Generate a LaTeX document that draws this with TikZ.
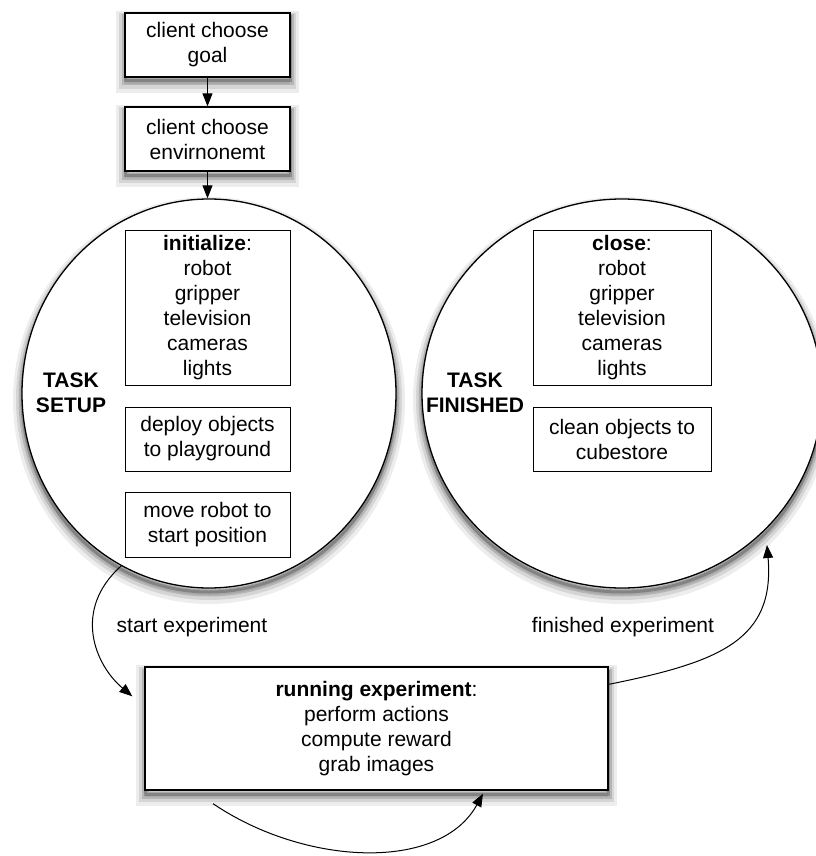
\documentclass[tikz,border=0pt]{standalone}
\usepackage{fontspec}
\setmainfont{Liberation Sans}
\usetikzlibrary{arrows.meta,shapes.geometric}
\begin{document}
\begin{tikzpicture}[x=1pt,y=-1pt,
  font=\fontsize{21}{25}\selectfont,
  shad/.style={
    preaction={draw=black,fill=black,opacity=0.07,line width=18pt,transform canvas={yshift=-7pt}},
    preaction={draw=black,fill=none,opacity=0.10,line width=12pt,transform canvas={yshift=-6pt}},
    preaction={draw=black,fill=none,opacity=0.15,line width=7pt,transform canvas={yshift=-5pt}},
    preaction={draw=black,fill=none,opacity=0.22,line width=3pt,transform canvas={yshift=-4pt}}},
  topbox/.style={draw,line width=1.3pt,fill=white,minimum width=165pt,minimum height=64pt,inner sep=0pt,align=center,shad},
  statecirc/.style={draw,ellipse,line width=1.3pt,fill=white,inner sep=0pt,shad},
  inbox/.style={draw,line width=0.9pt,fill=white,inner sep=0pt,align=center},
  lbl/.style={align=center,inner sep=0pt},
  arr/.style={-{Triangle[length=13pt,width=10pt]},line width=1pt},
]
\useasboundingbox (0,0) rectangle (815,856);
\node[topbox] (g) at (207.5,45) {client choose\\goal};
\node[topbox] (e) at (207.5,139) {client choose\\envirnonemt};
\node[statecirc,minimum width=374pt,minimum height=389pt] (L) at (209,393.5) {};
\node[statecirc,minimum width=400pt,minimum height=389pt] (R) at (622,393.5) {};

\node[inbox,minimum width=165pt,minimum height=155pt] (init) at (207.5,307.5)
  {\textbf{initialize}:\\robot\\gripper\\television\\cameras\\lights};
\node[inbox,minimum width=165pt,minimum height=64pt] (dep) at (207.5,439)
  {deploy objects\\to playground};
\node[inbox,minimum width=165pt,minimum height=65pt] (mov) at (207.5,524.5)
  {move robot to\\start position};
\node[lbl,font=\fontsize{21}{25}\selectfont\bfseries] (ts) at (71,392.5) {TASK\\SETUP};

\node[inbox,minimum width=178pt,minimum height=155pt] (cls) at (622,307.5)
  {\textbf{close}:\\robot\\gripper\\television\\cameras\\lights};
\node[inbox,minimum width=178pt,minimum height=64pt] (cln) at (622,439)
  {clean objects to\\cubestore};
\node[lbl,font=\fontsize{21}{25}\selectfont\bfseries] (tf) at (475,392.5) {TASK\\FINISHED};

\node[topbox,minimum width=463pt,minimum height=123pt] (X) at (376.5,728.5)
  {\textbf{running experiment}:\\perform actions\\compute reward\\grab images};

\node[lbl] (ls) at (192,627) {start experiment};
\node[lbl] (lf) at (623,627) {finished experiment};

\coordinate (a1) at ([xshift=-12pt,yshift=-30pt]X.north west);
\coordinate (a2) at ([xshift=145pt,yshift=-151.5pt]R.center);
\coordinate (s1) at ([xshift=-163.5pt,yshift=-13pt]X.south);
\coordinate (s2) at ([xshift=106.5pt,yshift=-3pt]X.south);

\draw[arr] (g) -- (e);
\draw[arr] (e) -- (e |- L.north);
\draw[arr] (L.-117) .. controls (72,610) and (95,665) .. (a1);
\draw[arr] ([yshift=-18pt]X.north east) .. controls (720,662) and (775,640) .. (a2);
\draw[arr] (s1) .. controls (305,866) and (440,872) .. (s2);
\end{tikzpicture}
\end{document}
